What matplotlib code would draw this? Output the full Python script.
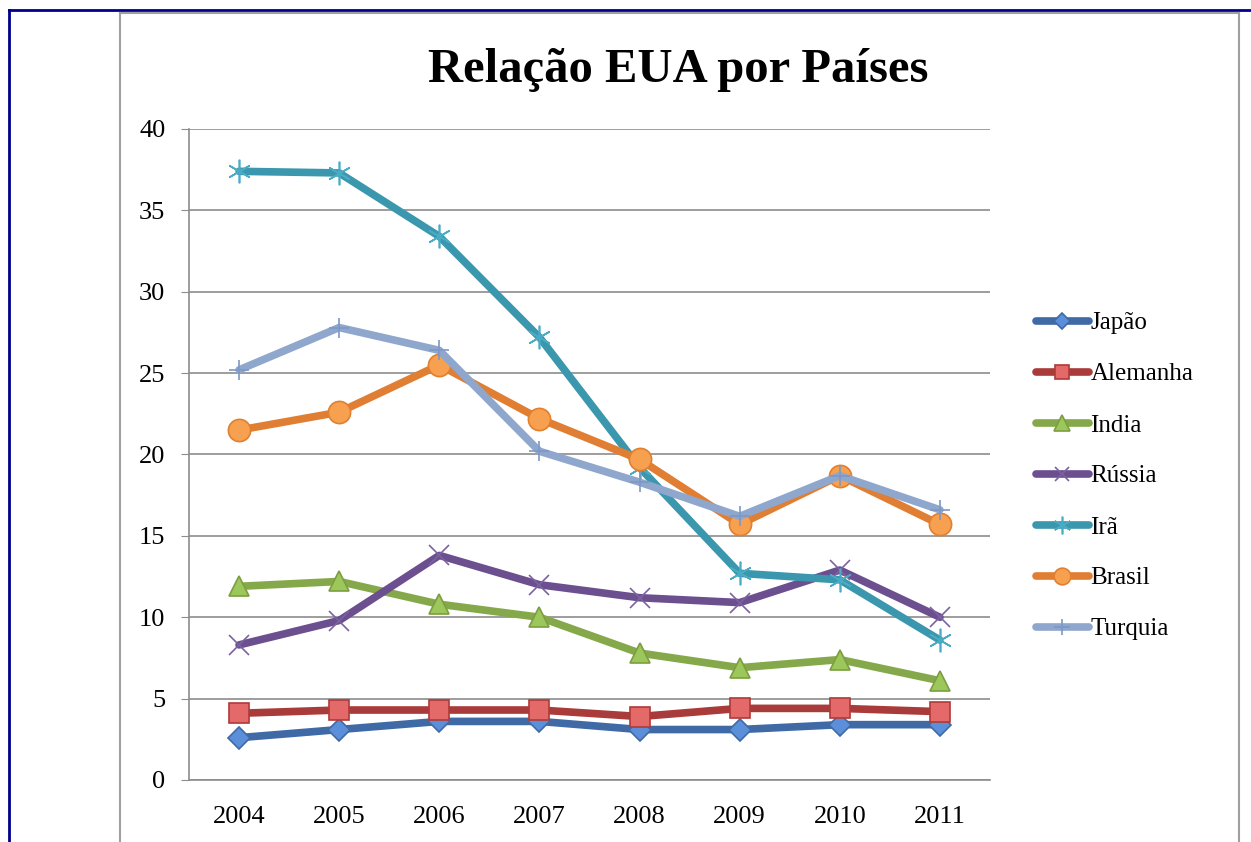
import matplotlib.pyplot as plt
from matplotlib.lines import Line2D

years = ['2004', '2005', '2006', '2007', '2008', '2009', '2010', '2011']

japao = [2.6, 3.1, 3.6, 3.6, 3.1, 3.1, 3.4, 3.4]
alemanha = [4.1, 4.3, 4.3, 4.3, 3.9, 4.4, 4.4, 4.2]
india = [11.9, 12.2, 10.8, 10.0, 7.8, 6.9, 7.4, 6.1]
russia = [8.3, 9.8, 13.8, 12.0, 11.2, 10.9, 12.9, 10.0]
ira = [37.4, 37.3, 33.4, 27.2, 19.2, 12.7, 12.3, 8.6]
brasil = [21.5, 22.6, 25.5, 22.2, 19.7, 15.7, 18.7, 15.7]
turquia = [25.2, 27.8, 26.4, 20.2, 18.3, 16.2, 18.7, 16.6]

names = ['Japão', 'Alemanha', 'India', 'Rússia', 'Irã', 'Brasil', 'Turquia']

# line colour, marker, marker face, marker edge, marker size
styles = [
    ('#3f6aa6', 'D', '#5b8fd9', '#3f6aa6', 11),
    ('#a93b3a', 's', '#e36a68', '#b03a38', 14),
    ('#85a84a', '^', '#9cc75a', '#7c9e40', 15),
    ('#6b4f8f', 'x', '#6b4f8f', '#7c62a0', 14),
    ('#3a97ae', (6, 2, 0), '#3a97ae', '#4aabc5', 17),
    ('#e07f33', 'o', '#f7a050', '#e08030', 16),
    ('#8fa7cd', '+', '#8fa7cd', '#7d98c6', 15),
]

plt.rcParams['font.family'] = ['Liberation Serif', 'DejaVu Serif']

fig = plt.figure(figsize=(12.51, 8.42), dpi=100)

# page borders
fig.add_artist(Line2D([9 / 1251, 9 / 1251], [0, 1 - 10 / 842], color='#00008b', lw=2))
fig.add_artist(Line2D([9 / 1251, 1], [1 - 10 / 842, 1 - 10 / 842], color='#00008b', lw=2))
fig.add_artist(Line2D([120 / 1251, 120 / 1251], [0, 1 - 13 / 842], color='#a0a0a0', lw=1.5))
fig.add_artist(Line2D([120 / 1251, 1239 / 1251], [1 - 13 / 842, 1 - 13 / 842], color='#a0a0a0', lw=1.5))
fig.add_artist(Line2D([1239 / 1251, 1239 / 1251], [0, 1 - 13 / 842], color='#a0a0a0', lw=1.5))

ax = fig.add_axes([189 / 1251, 62 / 842, 801 / 1251, 651 / 842])

x = range(len(years))
series = [japao, alemanha, india, russia, ira, brasil, turquia]
handles = []
for name, vals, st in zip(names, series, styles):
    lc, mk, mf, me, ms = st
    h, = ax.plot(x, vals, color=lc, lw=5.5, marker=mk, markersize=ms,
                 markerfacecolor=mf, markeredgecolor=me, markeredgewidth=1.2,
                 solid_capstyle='round', label=name, zorder=3)
    handles.append(h)

ax.set_xlim(-0.5, len(years) - 0.5)
ax.set_ylim(0, 40)
ax.set_yticks(range(0, 41, 5))
ax.set_xticks(list(x))
ax.set_xticklabels(years)
ax.yaxis.grid(True, color='#8c8c8c', lw=1.2)
ax.set_axisbelow(True)
for s in ['top', 'right']:
    ax.spines[s].set_visible(False)
for s in ['left', 'bottom']:
    ax.spines[s].set_color('#8c8c8c')
    ax.spines[s].set_linewidth(1.2)
ax.tick_params(axis='y', length=6, color='#8c8c8c', labelsize=19, pad=11)
ax.tick_params(axis='x', length=0, labelsize=19, pad=19)

fig.text(678 / 1251, 1 - 70 / 842, 'Relação EUA por Países', ha='center', va='center',
         fontsize=35, fontweight='bold')

fig.legend(handles=handles, loc='upper left', bbox_to_anchor=(1036 / 1251, 1 - 312 / 842),
           frameon=False, fontsize=18, labelspacing=1.14, handlelength=2.1,
           handletextpad=0.08, markerscale=0.75, borderaxespad=0, borderpad=0)

fig.savefig('out.png', dpi=100)
